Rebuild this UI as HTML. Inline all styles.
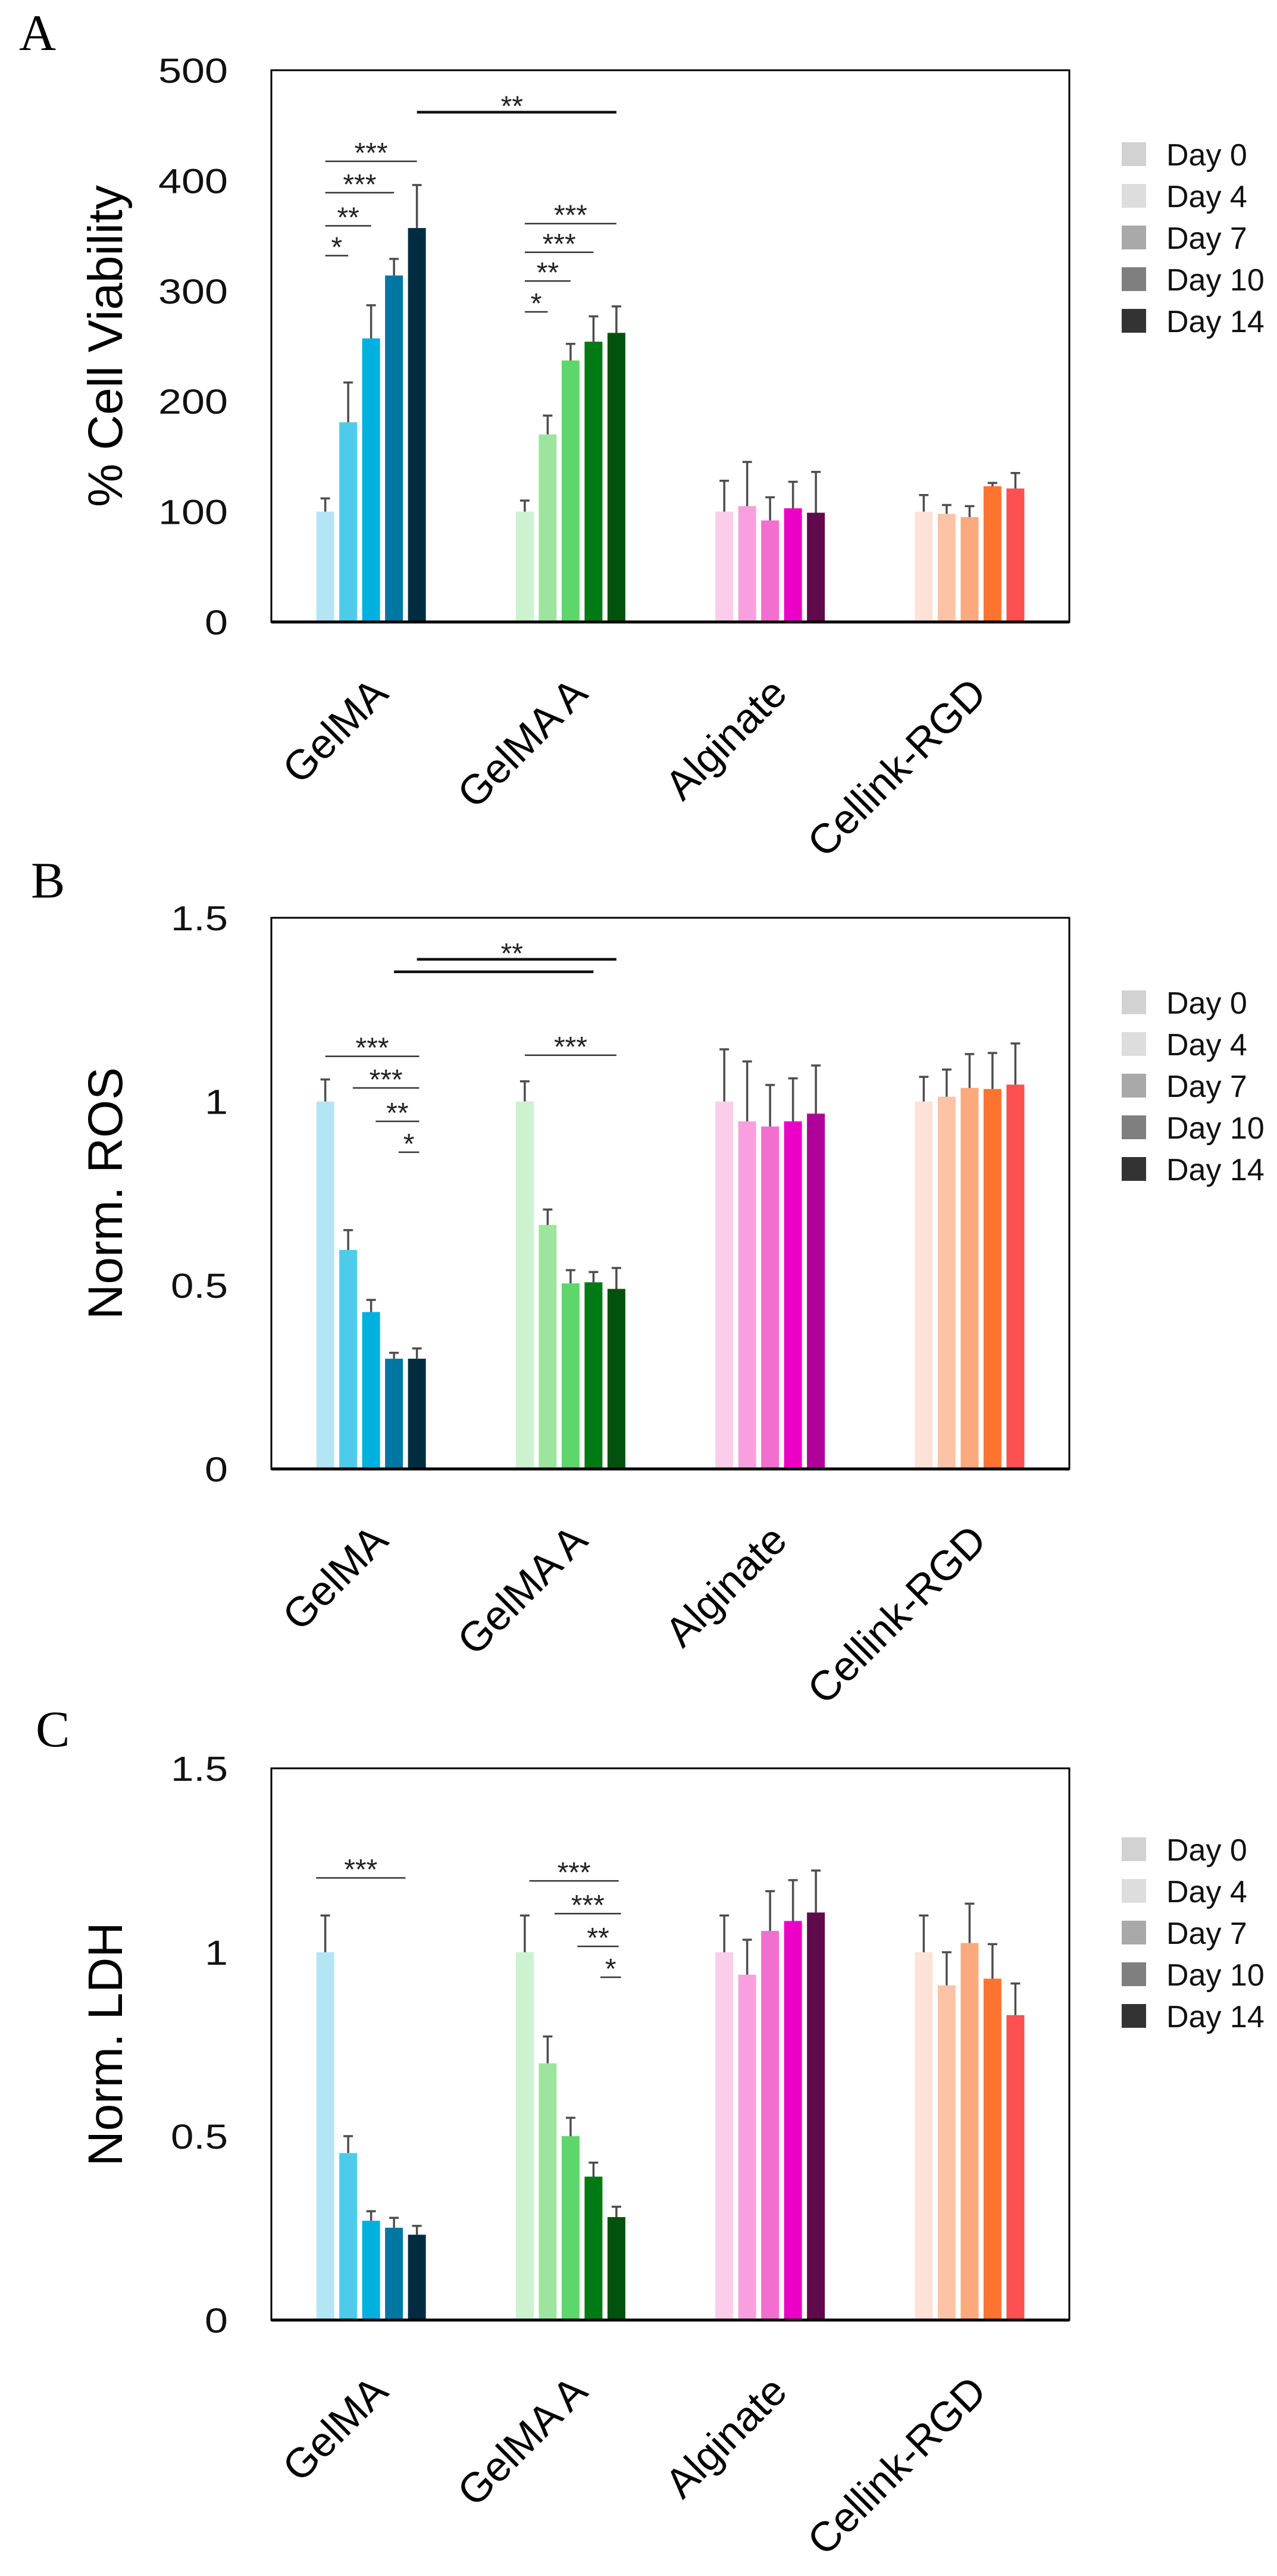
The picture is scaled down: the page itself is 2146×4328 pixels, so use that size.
<!DOCTYPE html>
<html><head><meta charset="utf-8"><title>Hydrogel bar charts</title>
<style>
html,body{margin:0;padding:0;background:#fff;}
svg{display:block;}
text{font-family:"Liberation Sans",sans-serif;}
</style></head>
<body>
<svg id="fig" width="2146" height="4328" viewBox="0 0 2146 4328" xmlns="http://www.w3.org/2000/svg"></svg>
<script>
const categories = ['GelMA','GelMA A','Alginate','Cellink-RGD'];
const days = ['Day 0','Day 4','Day 7','Day 10','Day 14'];
const legendColors = ['#d2d2d2','#dddddd','#a9a9a9','#7f7f7f','#333333'];

// Panel A: % cell viability
const aTicks = [0,100,200,300,400,500];
const aGelMA = [100,181,257,314,357];
const aGelMAErr = [112,217,287,329,396];
const aGelMAA = [100,170,237,254,262];
const aGelMAAErr = [110,187,252,277,286];
const aAlginate = [100,105,92,103,99];
const aAlginateErr = [128,145,113,127,136];
const aCellink = [100,98,95,123,121];
const aCellinkErr = [115,106,105,126,135];

// Panel B: normalized ROS
const bTicks = [0,0.5,1,1.5];
const bGelMA = [1.0,0.596,0.427,0.30,0.30];
const bGelMAErr = [1.06,0.65,0.46,0.316,0.328];
const bGelMAA = [1.0,0.664,0.505,0.508,0.49];
const bGelMAAErr = [1.055,0.706,0.541,0.536,0.547];
const bAlginate = [1.0,0.946,0.932,0.946,0.967];
const bAlginateErr = [1.142,1.109,1.045,1.063,1.098];
const bCellink = [1.0,1.013,1.037,1.034,1.046];
const bCellinkErr = [1.067,1.087,1.129,1.132,1.158];

// Panel C: normalized LDH
const cTicks = [0,0.5,1,1.5];
const cGelMA = [1.0,0.454,0.27,0.251,0.232];
const cGelMAErr = [1.10,0.50,0.296,0.278,0.256];
const cGelMAA = [1.0,0.698,0.5,0.39,0.28];
const cGelMAAErr = [1.10,0.771,0.55,0.428,0.308];
const cAlginate = [1.0,0.939,1.058,1.085,1.108];
const cAlginateErr = [1.10,1.034,1.166,1.196,1.222];
const cCellink = [1.0,0.91,1.025,0.928,0.829];
const cCellinkErr = [1.10,1.0,1.132,1.022,0.915];

// significance brackets: [group, barFrom, barTo, level, label]
const aSig = [[0,0,4,417.5,'***'],[0,0,3,389,'***'],[0,0,2,359,'**'],[0,0,1,332,'*'],
              [1,0,4,361,'***'],[1,0,3,335,'***'],[1,0,2,309,'**'],[1,0,1,281,'*']];
const bSig = [[0,0,4.1,1.123,'***'],[0,1.2,4.1,1.037,'***'],[0,2.2,4.1,0.946,'**'],[0,3.2,4.1,0.862,'*'],
              [1,0,4,1.126,'***']];
const cSig = [[0,-0.4,3.5,1.202,'***'],[1,0.2,4.1,1.194,'***'],[1,1.3,4.2,1.105,'***'],[1,2.3,4.1,1.016,'**'],[1,3.3,4.2,0.932,'*']];
// long cross-group brackets: [gFrom, barFrom, gTo, barTo, level, label]
const aLong = [[0,4,1,4,462,'**']];
const bLong = [[0,4,1,4,1.387,'**'],[0,3,1,3,1.353,'']];
const cLong = [];

const palettes = [
  ['#b3e5f5','#4ecbeb','#00b0e0','#0076a3','#002c40'],
  ['#cdf2cf','#9de59e','#5cd76a','#007a14','#00520c'],
  ['#fbcdea','#f8a0dd','#f26fcf','#ec00c8','#5e0a4b'],
  ['#fde2d7','#fdc3a6','#fca97e','#fc7430','#fd5050']
];
const palettesB2 = '#b0009a';

const NS = 'http://www.w3.org/2000/svg';
const svg = document.getElementById('fig');
function mk(tag, attrs, parent){
  const e = document.createElementNS(NS, tag);
  for (const k in attrs) e.setAttribute(k, attrs[k]);
  (parent||svg).appendChild(e);
  return e;
}

const panels = [
  {letter:'A', lx:32, ly:84, top:118, bottom:1045, max:500, ticks:aTicks, fmt:v=>String(v), title:'% Cell Viability',
   vals:[aGelMA,aGelMAA,aAlginate,aCellink], errs:[aGelMAErr,aGelMAAErr,aAlginateErr,aCellinkErr], sig:aSig, long:aLong, legY:259, key:'viability'},
  {letter:'B', lx:52, ly:1508, top:1542, bottom:2468, max:1.5, ticks:bTicks, fmt:v=>String(v), title:'Norm. ROS',
   vals:[bGelMA,bGelMAA,bAlginate,bCellink], errs:[bGelMAErr,bGelMAAErr,bAlginateErr,bCellinkErr], sig:bSig, long:bLong, legY:1684, key:'ros'},
  {letter:'C', lx:60, ly:2934, top:2971, bottom:3898, max:1.5, ticks:cTicks, fmt:v=>String(v), title:'Norm. LDH',
   vals:[cGelMA,cGelMAA,cAlginate,cCellink], errs:[cGelMAErr,cGelMAAErr,cAlginateErr,cCellinkErr], sig:cSig, long:cLong, legY:3107, key:'ldh'}
];

const LEFT = 456, RIGHT = 1797;
const groupW = (RIGHT-LEFT)/categories.length;
const pitch = 38.5, barW = 30;
function gx(g){ return LEFT + groupW*(g+0.5); }
function bx(g,i){ return gx(g) + (i-2)*pitch; }

panels.forEach((p, pi) => {
  const G = mk('g', {});
  
  
  const y = v => p.bottom - (v/p.max)*(p.bottom-p.top);

  const L = mk('text', {x:p.lx, y:p.ly, 'font-size':86, style:'font-family:"Liberation Serif",serif'}, G);
  L.textContent = p.letter;
  
  

  // y ticks
  p.ticks.forEach(t => {
    const s = p.fmt(t);
    const digits = s.replace('.','').length, dots = s.length - digits;
    const tt = mk('text', {x:383, y:y(t)+21, 'font-size':58, 'text-anchor':'end', fill:'#111',
      textLength: digits*39 + dots*18, lengthAdjust:'spacingAndGlyphs'}, G);
    tt.textContent = s;
    
    
  });

  // y axis title
  const cy = (p.top+p.bottom)/2;
  const yt = mk('text', {x:0, y:0, 'font-size':82, 'text-anchor':'middle', transform:`translate(205,${cy}) rotate(-90)`, fill:'#000'}, G);
  yt.textContent = p.title;
  
  

  // bars
  p.vals.forEach((series, g) => {
    series.forEach((v, i) => {
      const cx = bx(g,i);
      let col = palettes[g][i];
      if (pi === 1 && g === 2 && i === 4) col = palettesB2;
      const r = mk('rect', {x:cx-barW/2, y:y(v), width:barW, height:p.bottom-y(v), fill:col}, G);
      
      
      const ev = p.errs[g][i];
      const eb = mk('path', {d:`M${cx},${y(v)} V${y(ev)} M${cx-8},${y(ev)} H${cx+8}`, stroke:'#4d4d4d', 'stroke-width':3.5, fill:'none'}, G);
      
      
    });
  });

  // frame
  const fr = mk('rect', {x:LEFT, y:p.top, width:RIGHT-LEFT, height:p.bottom-p.top, fill:'none', stroke:'#000', 'stroke-width':3}, G);
  
  
  const ax = mk('line', {x1:LEFT, x2:RIGHT, y1:p.bottom, y2:p.bottom, stroke:'#000', 'stroke-width':5}, G);
  
  

  // x labels
  categories.forEach((c, g) => {
    const ex = gx(g)+32, ey = p.bottom+124;
    const xt = mk('text', {x:0, y:0, 'font-size':70, 'text-anchor':'end', transform:`translate(${ex},${ey}) rotate(-45)`, fill:'#000'}, G);
    xt.textContent = c;
    
    
  });

  // significance
  p.sig.forEach(s => {
    const [g,a,b,lv,lab] = s;
    const x1 = bx(g,a), x2 = bx(g,b), yy = y(lv);
    const ln = mk('line', {x1, x2, y1:yy, y2:yy, stroke:'#333', 'stroke-width':2.5}, G);
    
    
    const st = mk('text', {x:(x1+x2)/2, y:yy+2, 'font-size':48, 'text-anchor':'middle', fill:'#222'}, G);
    st.textContent = lab;
    
    
  });
  p.long.forEach(s => {
    const [g1,a,g2,b,lv,lab] = s;
    const x1 = bx(g1,a), x2 = bx(g2,b), yy = y(lv);
    const ln = mk('line', {x1, x2, y1:yy, y2:yy, stroke:'#111', 'stroke-width':4.5}, G);
    
    
    if (lab) {
      const st = mk('text', {x:(x1+x2)/2-8, y:yy+6, 'font-size':48, 'text-anchor':'middle', fill:'#222'}, G);
      st.textContent = lab;
      
      
    }
  });

  // legend
  const LG = mk('g', {}, G);
  
  
  days.forEach((d, i) => {
    const ry = p.legY + i*70;
    const sq = mk('rect', {x:1885, y:ry-20, width:41, height:40, fill:legendColors[i]}, LG);
    
    
    const lt = mk('text', {x:1960, y:ry+19, 'font-size':52, fill:'#111'}, LG);
    lt.textContent = d;
    
    
  });
});
</script>
</body></html>
